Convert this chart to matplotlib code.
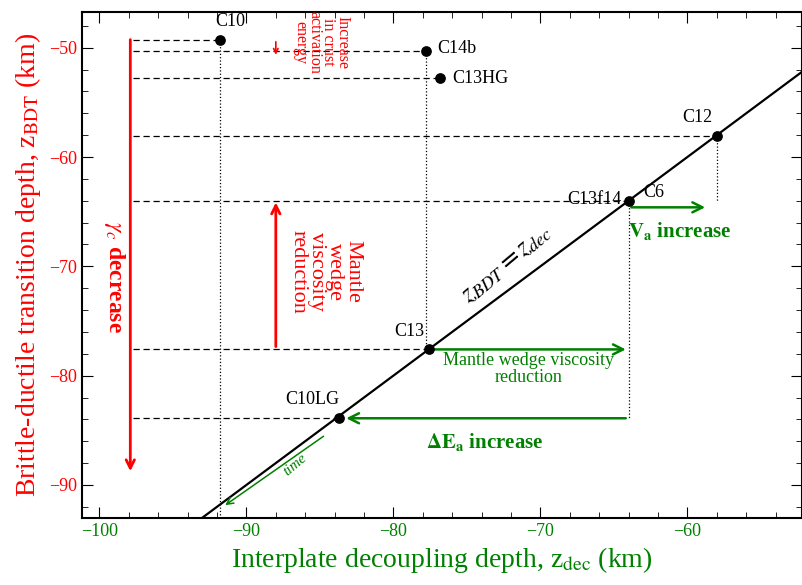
import matplotlib
matplotlib.use('Agg')
import matplotlib.pyplot as plt
import numpy as np

plt.rcParams['font.family'] = ['Liberation Serif', 'DejaVu Serif']
plt.rcParams['mathtext.fontset'] = 'stix'

names = ['C10', 'C14b', 'C13HG', 'C12', 'C13f14', 'C13', 'C10LG']
zdec = [-91.8, -77.8, -76.8, -58.0, -64.0, -77.6, -83.7]
zbdt = [-49.3, -50.3, -52.8, -58.1, -64.0, -77.6, -83.9]

fig, ax = plt.subplots(figsize=(8.02, 5.85), dpi=100)
fig.subplots_adjust(left=0.102, right=1.0, bottom=0.115, top=0.98)
ax.set_xlim(-101.2, -52.2)
ax.set_ylim(-93.0, -46.7)

line = np.array([-101.2, -52.2])
ax.plot(line, line, color='black', lw=1.6)

x0 = -97.7
for x, y in zip(zdec, zbdt):
    ax.plot([x0, x], [y, y], color='black', ls=(0, (5, 3)), lw=0.9)
ax.plot([-91.8, -91.8], [-49.3, -93], color='black', ls=':', lw=0.9)
ax.plot([-77.8, -77.8], [-50.3, -77.6], color='black', ls=':', lw=0.9)
ax.plot([-58.0, -58.0], [-58.1, -64.0], color='black', ls=':', lw=0.9)
ax.plot([-64.0, -64.0], [-64.0, -83.9], color='black', ls=':', lw=0.9)

ax.scatter(zdec, zbdt, color='black', s=45, zorder=5)
# name -> label offset (dx, dy) and alignment
offsets = [(-0.3, 0.9, 'left'), (0.8, 0.2, 'left'), (0.8, 0, 'left'), (-0.3, 0.9, 'right'),
           (-0.5, 0.1, 'right'), (-0.3, 0.9, 'right'), (0.0, 0.9, 'right')]
for n, x, y, (dx, dy, ha) in zip(names, zdec, zbdt, offsets):
    ax.text(x + dx, y + dy, n, ha=ha, va='bottom' if dy > 0.5 else 'center', fontsize=13)
ax.text(-63.0, -64.0, 'C6', ha='left', va='bottom', fontsize=13)

red = 'red'
green = 'green'
ap = dict(arrowstyle='->', color=red, lw=2, mutation_scale=15)
ax.annotate('', xy=(-97.9, -89), xytext=(-97.9, -49), arrowprops=ap)
ax.text(-99.0, -71, r'$\gamma_c$ decrease', color=red, rotation=-90, ha='center', va='center',
        fontsize=17, fontweight='bold')
ax.annotate('', xy=(-88, -63.9), xytext=(-88, -77.6), arrowprops=ap)
ax.text(-84.6, -70.5, 'Mantle\nwedge\nviscosity\nreduction', color=red, rotation=-90,
        ha='center', va='center', fontsize=16, linespacing=0.95)
ax.annotate('', xy=(-88, -50.9), xytext=(-88, -49.2),
            arrowprops=dict(arrowstyle='->', color=red, lw=1.2, mutation_scale=8))
ax.text(-84.9, -46.6, 'Increase\nin crust\nactivation\nenergy', color=red, rotation=-90,
        ha='center', va='top', fontsize=11.5, linespacing=0.85)

gp = dict(arrowstyle='->', color=green, lw=1.8, mutation_scale=18)
ax.annotate('', xy=(-58.6, -64.6), xytext=(-64.0, -64.6), arrowprops=gp)
ax.text(-60.5, -66.8, r'$\mathbf{V_a}$ increase', color=green, ha='center', va='center',
        fontsize=15, fontweight='bold')
ax.annotate('', xy=(-64.0, -77.6), xytext=(-77.4, -77.6), arrowprops=gp)
ax.text(-70.8, -79.4, 'Mantle wedge viscosity\nreduction', color=green, ha='center',
        va='center', fontsize=13, linespacing=0.95)
ax.annotate('', xy=(-83.4, -83.9), xytext=(-64.0, -83.9), arrowprops=gp)
ax.text(-73.8, -86.1, r'$\mathbf{\Delta E_a}$ increase', color=green, ha='center', va='center',
        fontsize=15, fontweight='bold')
ax.annotate('', xy=(-91.6, -92.0), xytext=(-84.6, -85.4),
            arrowprops=dict(arrowstyle='->', color=green, lw=1.1, mutation_scale=12))
ax.text(-86.7, -88.2, 'time', color=green, rotation=40, ha='center', va='center',
        fontsize=11, style='italic')
ax.text(-72.3, -69.8, r'$\boldsymbol{z_{BDT} = z_{dec}}$', rotation=40, ha='center',
        va='center', fontsize=19)

ax.set_xticks([-100, -90, -80, -70, -60])
ax.set_yticks([-50, -60, -70, -80, -90])
ax.set_xticks(np.arange(-100, -52, 2), minor=True)
ax.set_yticks(np.arange(-92, -46, 2), minor=True)
ax.tick_params(which='both', direction='in', top=True, right=True, labelsize=13)
ax.tick_params(which='major', length=8)
ax.tick_params(which='minor', length=4)
ax.tick_params(axis='x', labelcolor=green)
ax.tick_params(axis='y', labelcolor=red)
for s in ax.spines.values():
    s.set_linewidth(1.5)
ax.set_xlabel(r'Interplate decoupling depth, z$_{\rm dec}$ (km)', color=green, fontsize=20)
ax.set_ylabel(r'Brittle-ductile transition depth, z$_{\rm BDT}$ (km)', color=red, fontsize=20)
fig.savefig('out.png', dpi=100)
